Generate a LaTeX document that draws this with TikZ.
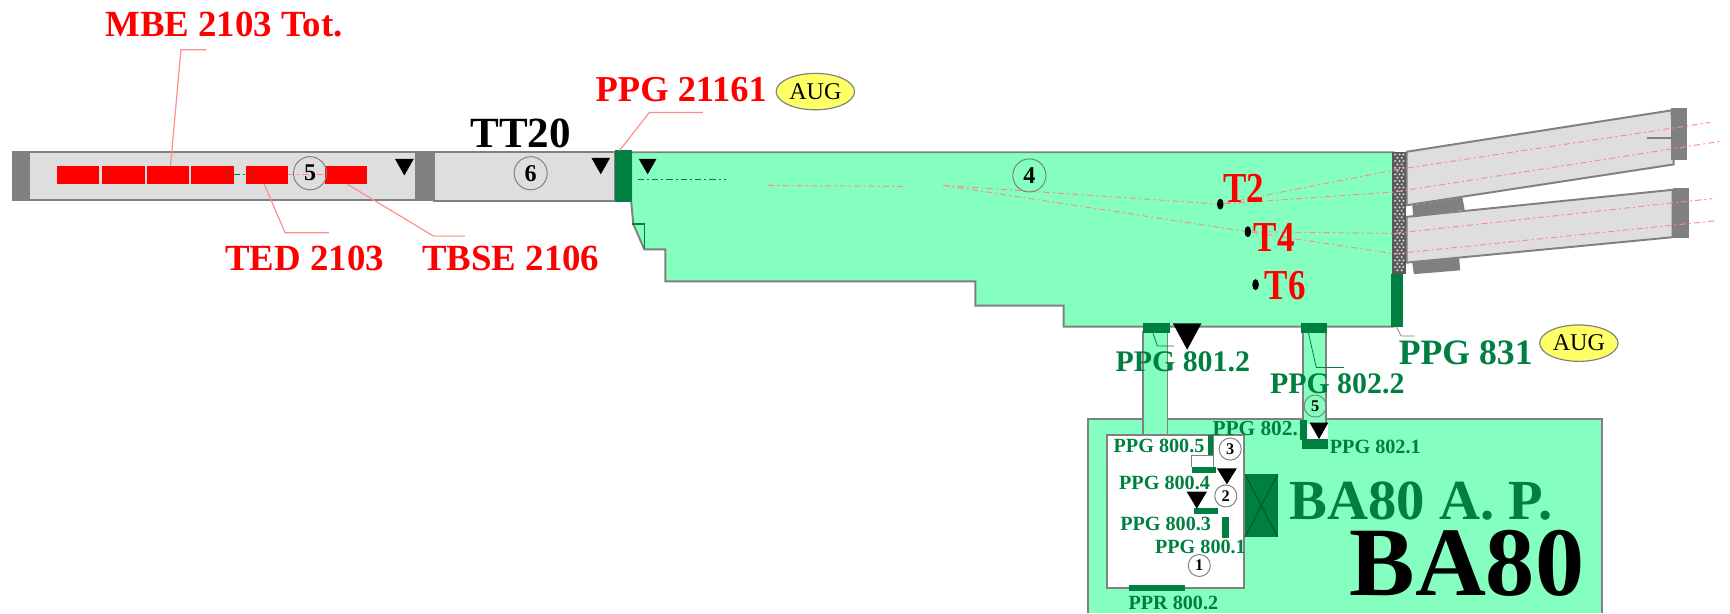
\documentclass[tikz,border=0pt]{standalone}
\usepackage{fontspec}
\setmainfont{Liberation Serif}
\usetikzlibrary{shapes.geometric}
\definecolor{hallgreen}{HTML}{84FFBF}
\definecolor{plugreen}{HTML}{008040}
\definecolor{wallgrey}{HTML}{808080}
\definecolor{beamgrey}{HTML}{DEDEDE}
\definecolor{beamred}{HTML}{FF0000}
\definecolor{leadred}{HTML}{FF8C8C}
\definecolor{augyellow}{HTML}{FFFF66}
\tikzset{
  redlabel/.style={inner sep=0pt, text=beamred, font=\bfseries\fontsize{9.5}{10}\selectfont},
  targetlabel/.style={redlabel, font=\bfseries\fontsize{11}{12}\selectfont, xscale=0.82, transform shape},
  plugsmall/.style={inner sep=0pt, text=plugreen, font=\bfseries\fontsize{5.2}{6}\selectfont},
  plugmid/.style={inner sep=0pt, text=plugreen, font=\bfseries\fontsize{7.7}{9}\selectfont},
  zonenum/.style={circle, draw=wallgrey, line width=0.25pt, inner sep=0pt, minimum size=0.3cm, font=\bfseries\fontsize{6.2}{7}\selectfont},
  zonesmall/.style={zonenum, fill=white, minimum size=0.2cm, font=\bfseries\fontsize{4.2}{5}\selectfont},
  augtag/.style={ellipse, draw=wallgrey, line width=0.3pt, fill=augyellow, inner sep=0pt, minimum width=0.71cm, minimum height=0.33cm, font=\fontsize{6.2}{7}\selectfont},
  targetdot/.style={ellipse, fill=black, inner sep=0pt, minimum width=0.06cm, minimum height=0.1cm},
  wall/.style={fill=wallgrey},
  tunnel/.style={fill=beamgrey, draw=wallgrey, line width=0.5pt},
  hall/.style={fill=hallgreen, draw=wallgrey, line width=0.5pt},
  plug/.style={fill=plugreen},
  leadline/.style={leadred, line width=0.3pt},
  plugline/.style={plugreen, line width=0.2pt},
  redbeam/.style={leadred, line width=0.25pt, dash pattern=on 1.6pt off 0.8pt on 0.5pt off 0.8pt},
  darkbeam/.style={plugreen, line width=0.25pt, dash pattern=on 1.6pt off 0.8pt on 0.5pt off 0.8pt}
}
\begin{document}
\begin{tikzpicture}[x=0.01cm, y=-0.01cm]
\useasboundingbox (0,0) rectangle (1568,556);
% TT20 line
\draw[tunnel] (26,138) rectangle (377,181);
\draw[tunnel] (393,138) rectangle (557,182);
\fill[wall] (11,137) rectangle (26,182);
\fill[wall] (377,137) rectangle (393,182);
\foreach \xa/\xb in {52/90, 92/131, 133/171, 173/212, 223/261, 295/333}
  \fill[beamred] (\xa,150.5) rectangle (\xb,166.5);
\draw[darkbeam] (212,158) -- (223,158);
\draw[redbeam] (261,158) -- (295,158);
% hall
\draw[hall] (572,138) -- (1263,138) -- (1263,296) -- (964,296) -- (964,277) -- (884,277) -- (884,255) -- (603,255) -- (603,226) -- (584,226) -- (574,203) -- (572,182) -- cycle;
\draw[plugline, line width=0.4pt] (573,203) -- (584,203) -- (584,226);
\fill[plug] (557,136) rectangle (573,183);
\fill[plug] (1261,248) rectangle (1272,296);
% grid at the end of the hall
\fill[black!65] (1262,138) rectangle (1274,248);
\foreach \py in {140,146,...,246}
  \foreach \px in {1264.5,1268.5,1272}
    \fill[white!80!black] (\px,\py) circle (1.1);
\foreach \py in {143,149,...,245}
  \foreach \px in {1266.5,1270.5}
    \fill[white!80!black] (\px,\py) circle (1.1);
% T lines
\draw[tunnel] (1275,137.5) -- (1515,100) -- (1517,149) -- (1275,186) -- cycle;
\draw[tunnel] (1275,196.5) -- (1516,172) -- (1516,215) -- (1275,238) -- cycle;
\fill[wall] (1514.5,98) rectangle (1529,145);
\fill[wall] (1516,170.5) rectangle (1531,216);
\draw[wallgrey, line width=0.4pt] (1493,125) -- (1518,125);
\fill[wall] (1280,186) -- (1325.5,179) -- (1327.5,190) -- (1281,197) -- cycle;
\fill[wall] (1280,238) -- (1322.5,234) -- (1323.5,245) -- (1281.5,248.5) -- cycle;
% targets
\node[targetdot] (dotTtwo) at (1106,185) {};
\node[targetdot] (dotTfour) at (1131,210) {};
\node[targetdot] (dotTsix) at (1138,258) {};
\coordinate (split) at (855,168);
\draw[darkbeam] (578,163) -- (658,163);
\draw[redbeam] (696,168) -- (818,169);
\draw[redbeam] (split) -- (dotTtwo);
\draw[redbeam] (split) -- (dotTfour);
\draw[redbeam] (dotTtwo) -- (1264,154) -- (1550,111);
\draw[redbeam] (dotTtwo) -- (1264,174) -- (1560,128);
\draw[redbeam] (dotTfour) -- (1264,211.5) -- (1552,180);
\draw[redbeam] (dotTfour) -- (1264,230) -- (1556,200);
% BA80
\fill[hallgreen] (986.5,380) rectangle (1452,556);
\draw[wallgrey, line width=0.5pt] (986.5,556) -- (986.5,380) -- (1452,380) -- (1452,556);
\fill[hallgreen] (1036.3,300) rectangle (1057.8,396);
\draw[wallgrey, line width=0.4pt] (1036,300) -- (1036,394) (1058,300) -- (1058,394);
\fill[hallgreen] (1181,300) rectangle (1202,400);
\draw[wallgrey, line width=0.4pt] (1181,300) -- (1181,382) (1202,300) -- (1202,384);
\fill[white] (1185,384) rectangle (1203.5,398);
\draw[fill=white, draw=wallgrey, line width=0.5pt] (1003,394.5) rectangle (1127.5,533);
\draw[draw=wallgrey, line width=0.3pt] (1080,423) -- (1080,412.5) -- (1099.5,412.5);
\draw[draw=wallgrey, line width=0.3pt] (1099.5,394.5) -- (1099.5,423);
\fill[plug] (1036,292.5) rectangle (1060,301.5);
\fill[plug] (1179,292.5) rectangle (1202.5,301.5);
\fill[plug] (1178.5,380.5) rectangle (1185,399);
\fill[plug] (1180.5,398) rectangle (1204,406.5);
\fill[plug] (1094.5,394.5) rectangle (1099.5,412.5);
\fill[plug] (1080,423) rectangle (1102,429);
\fill[plug] (1082,460) rectangle (1103.5,465.5);
\fill[plug] (1108,468.5) rectangle (1114,488);
\fill[plug] (1023,530.5) rectangle (1074,536);
\fill[plug] (1128.5,430) rectangle (1158,486.5);
\draw[black!30!plugreen, line width=0.3pt] (1128.5,430) -- (1158,486.5) (1158,430) -- (1128.5,486.5);
% stop marks
\foreach \xa/\xb/\ya/\yb in {358/375/144/159, 536/553/143/158, 579/595/144/158, 1063/1089/293/317, 1187/1204/383/398, 1103/1121/424.5/439, 1075.5/1094/445.5/461}
  \fill[black] (\xa,\ya) -- (\xb,\ya) -- ({(\xa+\xb)/2},\yb) -- cycle;
% leaders
\draw[plugline] (1045,302) -- (1049,313.5) -- (1064,313.5);
\draw[plugline] (1186,302) -- (1193,333) -- (1218,333);
\draw[plugline, wallgrey] (1265.5,296) -- (1270,304.5) -- (1282,304.5);
\draw[leadline] (154.5,150.5) -- (164,45) -- (187,45);
\draw[leadline] (239.5,167) -- (258.5,211) -- (298,211);
\draw[leadline] (315,167) -- (393,214) -- (421.5,214);
\draw[leadline] (561.5,136.5) -- (588.5,102) -- (637,102);
% labels
\node[redlabel] (mbe) at (203,22.5) {MBE 2103 Tot.};
\node[redlabel] (ted) at (276,234) {TED 2103};
\node[redlabel] (tbse) at (463,234) {TBSE 2106};
\node[redlabel, font=\bfseries\fontsize{9.4}{10}\selectfont] (ppgtop) at (617.5,81) {PPG 21161};
\node[augtag] (augtop) at (739,83) {AUG};
\node[inner sep=0pt, font=\bfseries\fontsize{11.1}{12}\selectfont] (tt) at (472,120.5) {TT20};
\node[targetlabel] (ttwo) at (1127,171) {T2};
\node[targetlabel] (tfour) at (1155,215) {T4};
\node[targetlabel] (tsix) at (1165,259) {T6};
\node[plugmid, font=\bfseries\fontsize{9.2}{10}\selectfont] (ppgrear) at (1328.5,320) {PPG 831};
\node[augtag] (augrear) at (1431,311) {AUG};
\node[plugmid] (ppgleft) at (1072,328) {PPG 801.2};
\node[plugmid] (ppgright) at (1212,348) {PPG 802.2};
\node[plugsmall, font=\bfseries\fontsize{5.5}{6}\selectfont] (ppgdoor) at (1142.5,388.5) {PPG 802.1};
\node[plugsmall] (ppgdoorb) at (1246.5,405) {PPG 802.1};
\node[plugsmall] (ppgfive) at (1050.5,404) {PPG 800.5};
\node[plugsmall] (ppgfour) at (1055.5,437.5) {PPG 800.4};
\node[plugsmall] (ppgthree) at (1056.5,474.5) {PPG 800.3};
\node[plugsmall] (ppgone) at (1088,496) {PPG 800.1};
\node[plugsmall] (pprtwo) at (1063.5,546.5) {PPR 800.2};
\node[inner sep=0pt, text=plugreen, font=\bfseries\fontsize{14.6}{15}\selectfont] (apname) at (1288,454) {BA80 A. P.};
\node[inner sep=0pt, font=\bfseries\fontsize{25.3}{26}\selectfont] (baname) at (1329.5,511) {BA80};
% zones
\node[zonenum] (zonefive) at (281,157) {5};
\node[zonenum] (zonesix) at (481,157) {6};
\node[zonenum] (zonefour) at (933,159) {4};
\node[zonesmall, fill=none] (zonepipe) at (1192,368) {5};
\node[zonesmall] (zonethree) at (1115,407) {3};
\node[zonesmall] (zonetwo) at (1111,449.5) {2};
\node[zonesmall] (zoneone) at (1087,512.5) {1};
\end{tikzpicture}
\end{document}
